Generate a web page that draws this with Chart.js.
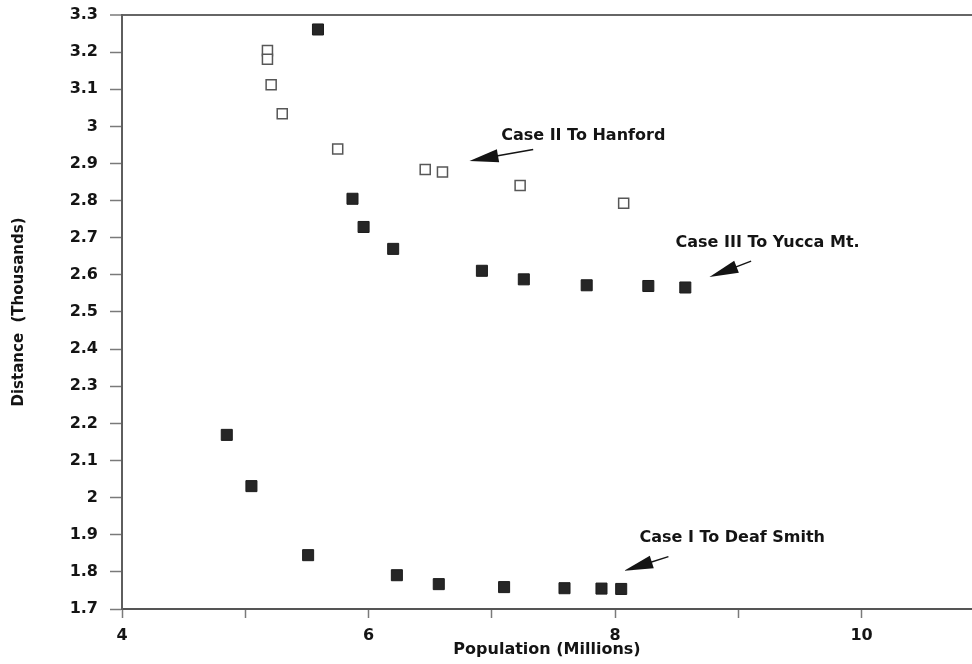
<!DOCTYPE html>
<html>
<head>
<meta charset="utf-8">
<script src="https://cdn.jsdelivr.net/npm/chart.js@4/dist/chart.umd.min.js"></script>
<style>
  html, body { margin: 0; padding: 0; background: #fff; overflow: hidden; }
  #wrap { width: 972px; height: 664px; position: relative; }
</style>
</head>
<body>
<div id="wrap"><canvas id="chart"></canvas></div>
<script>
// Population (millions) vs. shipping distance (thousands) for three repository cases
const caseIPopulation   = [4.85, 5.05, 5.51, 6.23, 6.57, 7.10, 7.59, 7.89, 8.05];
const caseIDistance     = [2.169, 2.031, 1.845, 1.791, 1.767, 1.759, 1.756, 1.755, 1.754];

const caseIIPopulation  = [5.18, 5.18, 5.21, 5.30, 5.75, 6.46, 6.60, 7.23, 8.07];
const caseIIDistance    = [3.204, 3.181, 3.112, 3.034, 2.939, 2.884, 2.877, 2.841, 2.793];

const caseIIIPopulation = [5.59, 5.87, 5.96, 6.20, 6.92, 7.26, 7.77, 8.27, 8.57];
const caseIIIDistance   = [3.261, 2.805, 2.729, 2.670, 2.611, 2.588, 2.572, 2.570, 2.566];

const populationTicks   = [4, 5, 6, 7, 8, 9, 10];
const populationLabeled = [4, 6, 8, 10];
const distanceTicks     = [1.7, 1.8, 1.9, 2, 2.1, 2.2, 2.3, 2.4, 2.5, 2.6, 2.7, 2.8, 2.9, 3, 3.1, 3.2, 3.3];

const caseLabels = ['Case I To Deaf Smith', 'Case II To Hanford', 'Case III To Yucca Mt.'];

const toPoints = (xs, ys) => xs.map((x, i) => ({ x: x, y: ys[i] }));

const FONT = '"DejaVu Sans", "Liberation Sans", sans-serif';
const INK = '#141414';

// Callout notes, placed in data units: label anchor, arrow tip and arrow tail
const callouts = [
  { text: caseLabels[1], at: [7.076, 2.974], tip: [6.819, 2.907], tail: [7.336, 2.938] },
  { text: caseLabels[2], at: [8.491, 2.685], tip: [8.766, 2.594], tail: [9.104, 2.637] },
  { text: caseLabels[0], at: [8.198, 1.891], tip: [8.074, 1.803], tail: [8.433, 1.841] }
];

const calloutPlugin = {
  id: 'callouts',
  afterDatasetsDraw(chart) {
    const { ctx, scales: { x, y } } = chart;
    ctx.save();
    ctx.fillStyle = INK;
    ctx.strokeStyle = INK;
    ctx.font = 'bold 16px ' + FONT;
    ctx.textAlign = 'left';
    ctx.textBaseline = 'middle';
    callouts.forEach(c => {
      ctx.fillText(c.text, x.getPixelForValue(c.at[0]), y.getPixelForValue(c.at[1]));
      const tx = x.getPixelForValue(c.tip[0]), ty = y.getPixelForValue(c.tip[1]);
      const ex = x.getPixelForValue(c.tail[0]), ey = y.getPixelForValue(c.tail[1]);
      const len = Math.hypot(ex - tx, ey - ty);
      const ux = (ex - tx) / len, uy = (ey - ty) / len;
      const head = 29, half = 6.5;
      const bx = tx + ux * head, by = ty + uy * head;
      ctx.beginPath();
      ctx.moveTo(tx, ty);
      ctx.lineTo(bx - uy * half, by + ux * half);
      ctx.lineTo(bx + uy * half, by - ux * half);
      ctx.closePath();
      ctx.fill();
      ctx.lineWidth = 1.5;
      ctx.beginPath();
      ctx.moveTo(bx - ux * 6, by - uy * 6);
      ctx.lineTo(ex, ey);
      ctx.stroke();
    });
    ctx.restore();
  }
};

const filledSquare = {
  pointStyle: 'rect',
  pointRadius: 7.8,
  pointHoverRadius: 7.8,
  backgroundColor: '#262626',
  borderColor: '#1c1c1c',
  borderWidth: 1,
  showLine: false
};

new Chart(document.getElementById('chart'), {
  type: 'scatter',
  data: {
    datasets: [
      Object.assign({ label: caseLabels[0], data: toPoints(caseIPopulation, caseIDistance) }, filledSquare),
      {
        label: caseLabels[1],
        data: toPoints(caseIIPopulation, caseIIDistance),
        pointStyle: 'rect',
        pointRadius: 7.1,
        pointHoverRadius: 7.1,
        backgroundColor: '#ffffff',
        borderColor: '#575757',
        borderWidth: 1.5,
        showLine: false
      },
      Object.assign({ label: caseLabels[2], data: toPoints(caseIIIPopulation, caseIIIDistance) }, filledSquare)
    ]
  },
  options: {
    responsive: true,
    maintainAspectRatio: false,
    animation: false,
    layout: { autoPadding: false, padding: { top: 15, right: 0, bottom: 0, left: 0 } },
    plugins: {
      legend: { display: false },
      tooltip: { enabled: false }
    },
    scales: {
      x: {
        type: 'linear',
        min: 4,
        max: 10.896,
        afterFit(scale) { scale.height = 55; scale.paddingLeft = 0; scale.paddingRight = 0; },
        afterBuildTicks(scale) { scale.ticks = populationTicks.map(v => ({ value: v })); },
        border: { display: true, color: '#555', width: 2 },
        grid: { drawOnChartArea: false, tickLength: 9, tickColor: '#7a7a7a', tickWidth: 1.5 },
        ticks: {
          color: INK,
          padding: 8,
          maxRotation: 0,
          autoSkip: false,
          font: { family: FONT, size: 16, weight: 'bold' },
          callback: v => populationLabeled.includes(v) ? String(v) : ''
        },
        title: {
          display: true,
          text: 'Population (Millions)',
          color: INK,
          padding: { top: 0, bottom: 5 },
          font: { family: FONT, size: 16, weight: 'bold' }
        }
      },
      y: {
        type: 'linear',
        min: 1.7,
        max: 3.3,
        afterFit(scale) { scale.width = 122; scale.paddingTop = 0; scale.paddingBottom = 0; },
        afterBuildTicks(scale) { scale.ticks = distanceTicks.map(v => ({ value: v })); },
        border: { display: true, color: '#5e5e5e', width: 2 },
        grid: {
          drawOnChartArea: true,
          color: c => (c.tick && c.tick.value === 3.3) ? '#666' : 'rgba(0,0,0,0)',
          lineWidth: c => (c.tick && c.tick.value === 3.3) ? 2 : 1,
          tickLength: 12,
          tickColor: '#7a7a7a',
          tickWidth: 1.5
        },
        ticks: {
          color: INK,
          padding: 12,
          autoSkip: false,
          font: { family: FONT, size: 16, weight: 'bold' },
          callback: v => String(v)
        },
        title: {
          display: true,
          text: 'Distance  (Thousands)',
          color: INK,
          padding: { top: 10, bottom: 0 },
          font: { family: FONT, size: 15, weight: 'bold' }
        }
      }
    }
  },
  plugins: [calloutPlugin]
});
</script>
</body>
</html>
